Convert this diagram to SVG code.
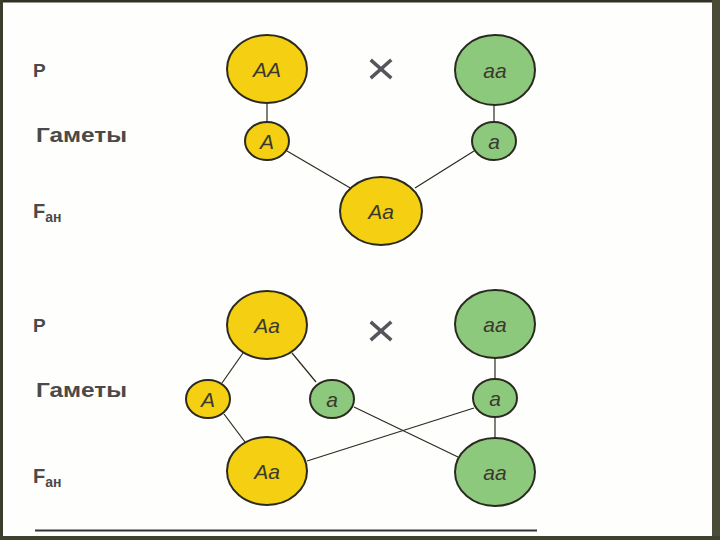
<svg xmlns="http://www.w3.org/2000/svg" width="720" height="540" viewBox="0 0 720 540">
<style>
.y{fill:#f4cf12;stroke:#2a2a20;stroke-width:2}
.g{fill:#8dc97c;stroke:#2a2a20;stroke-width:2}
.t{font-family:"Liberation Sans",Arial,sans-serif;font-style:italic;font-size:21px;fill:#3a3a30;text-anchor:middle}
.l{font-family:"Liberation Sans",Arial,sans-serif;font-weight:bold;fill:#4a4a48}
.c line{stroke:#2a2a20;stroke-width:1.2}
.x{stroke:#55555c;stroke-width:3.5;stroke-linecap:square}
</style>
<rect width="720" height="540" fill="#fefefc"/>
<rect x="0" y="0" width="720" height="2.5" fill="#2e3124"/>
<rect x="0" y="0" width="3" height="540" fill="#3b3d2a"/>
<rect x="712" y="0" width="8" height="540" fill="#4a4c38"/>
<rect x="0" y="536" width="720" height="4" fill="#3e4030"/>
<line x1="35" y1="530.5" x2="537" y2="530.5" stroke="#333" stroke-width="2"/>
<g id="labels">
<text class="l" x="33" y="77" font-size="19">P</text>
<text class="l" x="36" y="142" font-size="20" textLength="91" lengthAdjust="spacingAndGlyphs">Гаметы</text>
<text class="l" x="33" y="218" font-size="20">F<tspan font-size="14" dy="4">ан</tspan></text>
<text class="l" x="33" y="332" font-size="19">P</text>
<text class="l" x="36" y="397" font-size="20" textLength="91" lengthAdjust="spacingAndGlyphs">Гаметы</text>
<text class="l" x="33" y="483" font-size="20">F<tspan font-size="14" dy="4">ан</tspan></text>
</g>
<g class="c" id="connectors">
<line x1="267" y1="104" x2="267" y2="122"/>
<line x1="494" y1="105" x2="494" y2="122"/>
<line x1="287" y1="151" x2="352" y2="189"/>
<line x1="474" y1="151" x2="415" y2="188"/>
<line x1="243" y1="353" x2="222" y2="383"/>
<line x1="292" y1="353" x2="316" y2="382"/>
<line x1="224" y1="414" x2="245" y2="442"/>
<line x1="354" y1="407" x2="458" y2="457"/>
<line x1="307" y1="461" x2="474" y2="408"/>
<line x1="495" y1="358" x2="495" y2="380"/>
<line x1="495" y1="417" x2="495" y2="438"/>
</g>
<g id="cross1"><line class="x" x1="372" y1="61" x2="390" y2="77"/><line class="x" x1="390" y1="61" x2="372" y2="77"/></g>
<g id="cross2"><line class="x" x1="372" y1="323" x2="390" y2="339"/><line class="x" x1="390" y1="323" x2="372" y2="339"/></g>
<g id="p1AA"><ellipse class="y" cx="267" cy="69" rx="40" ry="34"/><text class="t" x="267" y="77">AA</text></g>
<g id="p1aa"><ellipse class="g" cx="495" cy="70" rx="40" ry="35"/><text class="t" x="495" y="78">aa</text></g>
<g id="g1A"><ellipse class="y" cx="267" cy="141" rx="22" ry="19"/><text class="t" x="267" y="149">A</text></g>
<g id="g1a"><ellipse class="g" cx="494" cy="141" rx="22" ry="19"/><text class="t" x="494" y="149">a</text></g>
<g id="f1Aa"><ellipse class="y" cx="381" cy="211" rx="41" ry="34"/><text class="t" x="381" y="219">Aa</text></g>
<g id="p2Aa"><ellipse class="y" cx="267" cy="325" rx="40" ry="34"/><text class="t" x="267" y="333">Aa</text></g>
<g id="p2aa"><ellipse class="g" cx="495" cy="324" rx="40" ry="34"/><text class="t" x="495" y="332">aa</text></g>
<g id="g2A"><ellipse class="y" cx="208" cy="399" rx="22" ry="19"/><text class="t" x="208" y="407">A</text></g>
<g id="g2a1"><ellipse class="g" cx="332" cy="399" rx="22" ry="19"/><text class="t" x="332" y="407">a</text></g>
<g id="g2a2"><ellipse class="g" cx="495" cy="398" rx="22" ry="19"/><text class="t" x="495" y="406">a</text></g>
<g id="f2Aa"><ellipse class="y" cx="267" cy="471" rx="40" ry="34"/><text class="t" x="267" y="479">Aa</text></g>
<g id="f2aa"><ellipse class="g" cx="495" cy="472" rx="40" ry="34"/><text class="t" x="495" y="480">aa</text></g>
</svg>
